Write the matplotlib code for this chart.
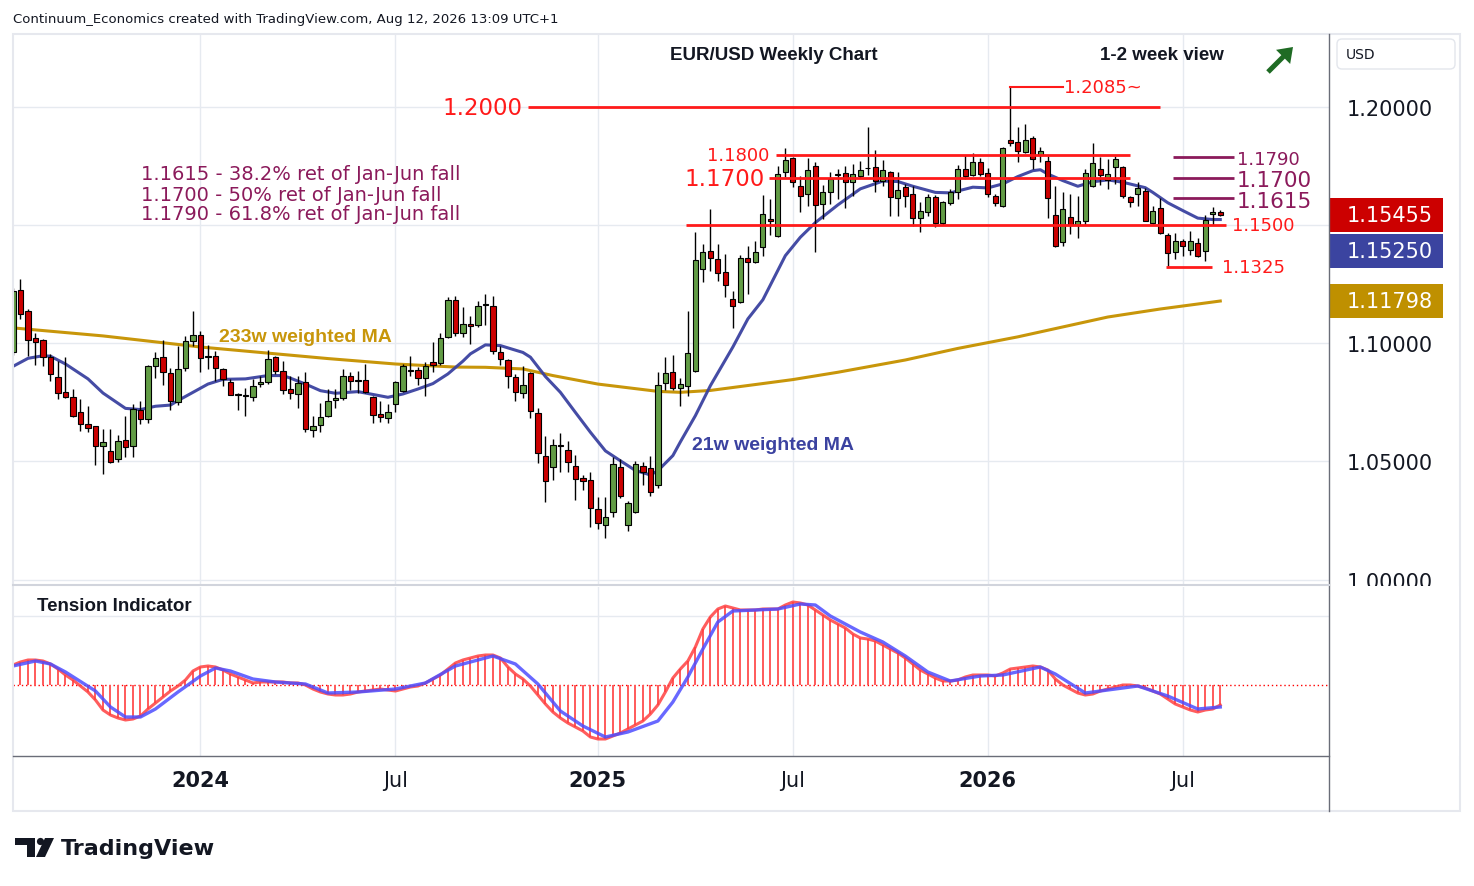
import numpy as np
import pandas as pd
import matplotlib
matplotlib.use("Agg")
import matplotlib.pyplot as plt
from matplotlib.patches import Rectangle, FancyBboxPatch, Circle, Polygon, FancyArrow
from matplotlib.transforms import Affine2D

# ---- weekly EUR/USD candles, week of 10 Jul 2023 .. week of 10 Aug 2026 ----
dates = pd.date_range("2023-07-10", periods=162, freq="W-MON")

opens = [1.0964, 1.1228, 1.1136, 1.1022, 1.1015, 1.0942, 1.0857, 1.0793, 1.0772, 1.0711,
         1.0659, 1.0649, 1.0564, 1.0546, 1.0511, 1.0592, 1.0564, 1.0720, 1.0680, 1.0906,
         1.0942, 1.0874, 1.0753, 1.0895, 1.1009, 1.1036, 1.0946, 1.0948, 1.0892, 1.0838,
         1.0782, 1.0779, 1.0772, 1.0827, 1.0836, 1.0942, 1.0885, 1.0807, 1.0786, 1.0836,
         1.0635, 1.0655, 1.0694, 1.0761, 1.0768, 1.0864, 1.0845, 1.0845, 1.0775, 1.0701,
         1.0683, 1.0744, 1.0797, 1.0885, 1.0889, 1.0853, 1.0920, 1.0916, 1.1026, 1.1186,
         1.1045, 1.1083, 1.1078, 1.1163, 1.1158, 1.0963, 1.0930, 1.0857, 1.0789, 1.0874,
         1.0704, 1.0525, 1.0475, 1.0570, 1.0550, 1.0482, 1.0429, 1.0423, 1.0299, 1.0232,
         1.0285, 1.0475, 1.0231, 1.0285, 1.0482, 1.0471, 1.0400, 1.0831, 1.0878, 1.0810,
         1.0821, 1.0885, 1.1316, 1.1393, 1.1358, 1.1302, 1.1189, 1.1175, 1.1361, 1.1347,
         1.1408, 1.1528, 1.1454, 1.1725, 1.1785, 1.1666, 1.1633, 1.1753, 1.1591, 1.1641,
         1.1714, 1.1722, 1.1686, 1.1711, 1.1742, 1.1747, 1.1690, 1.1725, 1.1615, 1.1662,
         1.1633, 1.1531, 1.1556, 1.1620, 1.1511, 1.1595, 1.1643, 1.1739, 1.1715, 1.1768,
         1.1721, 1.1626, 1.1581, 1.1864, 1.1853, 1.1813, 1.1869, 1.1799, 1.1773, 1.1544,
         1.1431, 1.1535, 1.1503, 1.1520, 1.1666, 1.1739, 1.1694, 1.1747, 1.1747, 1.1620,
         1.1633, 1.1647, 1.1511, 1.1573, 1.1460, 1.1386, 1.1433, 1.1397, 1.1426, 1.1393,
         1.1549, 1.1558]

highs = [1.1235, 1.1273, 1.1146, 1.1045, 1.1020, 1.0956, 1.0927, 1.0943, 1.0807, 1.0765,
         1.0736, 1.0652, 1.0638, 1.0638, 1.0612, 1.0694, 1.0744, 1.0758, 1.0910, 1.0963,
         1.1015, 1.0895, 1.0991, 1.1033, 1.1139, 1.1054, 1.0994, 1.0970, 1.0895, 1.0850,
         1.0790, 1.0810, 1.0850, 1.0861, 1.0974, 1.0948, 1.0927, 1.0861, 1.0861, 1.0881,
         1.0694, 1.0748, 1.0807, 1.0807, 1.0892, 1.0878, 1.0885, 1.0913, 1.0778, 1.0755,
         1.0744, 1.0842, 1.0913, 1.0946, 1.0899, 1.0923, 1.1005, 1.1045, 1.1196, 1.1200,
         1.1153, 1.1118, 1.1181, 1.1210, 1.1203, 1.0991, 1.0934, 1.0871, 1.0903, 1.0881,
         1.0725, 1.0607, 1.0595, 1.0621, 1.0588, 1.0529, 1.0443, 1.0454, 1.0348, 1.0348,
         1.0518, 1.0511, 1.0334, 1.0503, 1.0499, 1.0525, 1.0878, 1.0942, 1.0951, 1.0853,
         1.1139, 1.1471, 1.1422, 1.1570, 1.1422, 1.1379, 1.1224, 1.1375, 1.1414, 1.1436,
         1.1629, 1.1612, 1.1753, 1.1827, 1.1789, 1.1708, 1.1785, 1.1770, 1.1672, 1.1728,
         1.1739, 1.1753, 1.1761, 1.1775, 1.1916, 1.1821, 1.1779, 1.1732, 1.1725, 1.1676,
         1.1669, 1.1601, 1.1633, 1.1629, 1.1605, 1.1655, 1.1756, 1.1799, 1.1807, 1.1785,
         1.1742, 1.1633, 1.1831, 1.2085, 1.1916, 1.1930, 1.1881, 1.1831, 1.1793, 1.1669,
         1.1641, 1.1633, 1.1624, 1.1739, 1.1850, 1.1789, 1.1782, 1.1793, 1.1751, 1.1626,
         1.1683, 1.1658, 1.1584, 1.1615, 1.1468, 1.1468, 1.1443, 1.1478, 1.1446, 1.1544,
         1.1577, 1.1567]

lows = [1.0950, 1.1104, 1.0946, 1.0910, 1.0906, 1.0842, 1.0765, 1.0770, 1.0689, 1.0630,
        1.0624, 1.0485, 1.0447, 1.0494, 1.0499, 1.0519, 1.0519, 1.0659, 1.0663, 1.0853,
        1.0824, 1.0720, 1.0739, 1.0885, 1.0991, 1.0878, 1.0892, 1.0842, 1.0819, 1.0780,
        1.0720, 1.0694, 1.0758, 1.0814, 1.0828, 1.0871, 1.0786, 1.0765, 1.0725, 1.0624,
        1.0603, 1.0624, 1.0687, 1.0725, 1.0762, 1.0804, 1.0790, 1.0790, 1.0663, 1.0669,
        1.0663, 1.0708, 1.0793, 1.0864, 1.0824, 1.0776, 1.0881, 1.0909, 1.1022, 1.1031,
        1.1026, 1.0998, 1.1069, 1.1078, 1.0956, 1.0909, 1.0810, 1.0758, 1.0768, 1.0683,
        1.0494, 1.0330, 1.0423, 1.0454, 1.0454, 1.0338, 1.0380, 1.0221, 1.0214, 1.0175,
        1.0264, 1.0344, 1.0207, 1.0282, 1.0400, 1.0355, 1.0386, 1.0804, 1.0804, 1.0734,
        1.0779, 1.0878, 1.1262, 1.1308, 1.1266, 1.1196, 1.1064, 1.1172, 1.1210, 1.1341,
        1.1372, 1.1460, 1.1450, 1.1704, 1.1662, 1.1558, 1.1584, 1.1389, 1.1528, 1.1591,
        1.1612, 1.1573, 1.1624, 1.1700, 1.1714, 1.1643, 1.1669, 1.1542, 1.1542, 1.1577,
        1.1499, 1.1471, 1.1542, 1.1492, 1.1502, 1.1587, 1.1612, 1.1697, 1.1711, 1.1708,
        1.1620, 1.1584, 1.1579, 1.1838, 1.1768, 1.1807, 1.1739, 1.1768, 1.1531, 1.1410,
        1.1414, 1.1464, 1.1446, 1.1502, 1.1662, 1.1672, 1.1655, 1.1676, 1.1615, 1.1577,
        1.1584, 1.1518, 1.1506, 1.1464, 1.1327, 1.1358, 1.1372, 1.1375, 1.1365, 1.1351,
        1.1502, 1.1539]

closes = [1.1222, 1.1125, 1.1015, 1.1005, 1.0942, 1.0871, 1.0789, 1.0772, 1.0694, 1.0658,
          1.0641, 1.0567, 1.0581, 1.0499, 1.0588, 1.0560, 1.0722, 1.0680, 1.0906, 1.0937,
          1.0878, 1.0758, 1.0892, 1.1012, 1.1036, 1.0937, 1.0944, 1.0895, 1.0850, 1.0782,
          1.0784, 1.0781, 1.0819, 1.0836, 1.0934, 1.0885, 1.0804, 1.0789, 1.0833, 1.0638,
          1.0652, 1.0687, 1.0758, 1.0769, 1.0864, 1.0842, 1.0843, 1.0796, 1.0698, 1.0687,
          1.0708, 1.0836, 1.0903, 1.0887, 1.0853, 1.0906, 1.0909, 1.1022, 1.1186, 1.1045,
          1.1083, 1.1073, 1.1158, 1.1165, 1.0970, 1.0934, 1.0861, 1.0793, 1.0825, 1.0713,
          1.0536, 1.0416, 1.0571, 1.0567, 1.0497, 1.0426, 1.0419, 1.0302, 1.0238, 1.0264,
          1.0489, 1.0353, 1.0323, 1.0489, 1.0454, 1.0369, 1.0825, 1.0875, 1.0810, 1.0827,
          1.0958, 1.1355, 1.1389, 1.1361, 1.1299, 1.1248, 1.1158, 1.1361, 1.1344, 1.1389,
          1.1549, 1.1518, 1.1718, 1.1778, 1.1686, 1.1624, 1.1736, 1.1587, 1.1641, 1.1697,
          1.1718, 1.1683, 1.1718, 1.1735, 1.1744, 1.1690, 1.1736, 1.1620, 1.1652, 1.1624,
          1.1531, 1.1563, 1.1620, 1.1511, 1.1598, 1.1641, 1.1739, 1.1708, 1.1768, 1.1718,
          1.1633, 1.1595, 1.1827, 1.1850, 1.1817, 1.1864, 1.1782, 1.1817, 1.1615, 1.1412,
          1.1570, 1.1502, 1.1518, 1.1721, 1.1764, 1.1714, 1.1718, 1.1782, 1.1624, 1.1598,
          1.1658, 1.1520, 1.1563, 1.1468, 1.1383, 1.1433, 1.1412, 1.1433, 1.1369, 1.1525,
          1.1558, 1.15455]

# moving averages (week index, value)
ma21_weeks = [0, 2, 4, 5, 7, 10, 12, 15, 17, 19, 21, 22, 24, 26, 28, 31, 34, 36, 37, 39,
              41, 43, 46, 50, 52, 54, 56, 58, 60, 61, 63, 65, 68, 69, 71, 73, 75, 77, 79, 81,
              83, 85, 86, 88, 89, 91, 93, 96, 98, 100, 103, 105, 107, 110, 113, 116, 118, 120,
              123, 125, 128, 130, 132, 134, 136, 137, 138, 140, 142, 144, 146, 148, 151, 152,
              154, 156, 158, 160, 161]
ma21_vals = [1.0903, 1.0937, 1.0948, 1.0946, 1.0913, 1.0850, 1.0790, 1.0725, 1.0720, 1.0734,
             1.0739, 1.0758, 1.0793, 1.0828, 1.0848, 1.0850, 1.0864, 1.0864, 1.0853, 1.0828,
             1.0800, 1.0789, 1.0796, 1.0772, 1.0786, 1.0807, 1.0830, 1.0871, 1.0925, 1.0956,
             1.0994, 1.0991, 1.0962, 1.0942, 1.0860, 1.0793, 1.0708, 1.0624, 1.0545, 1.0503,
             1.0462, 1.0443, 1.0461, 1.0525, 1.0583, 1.0694, 1.0821, 1.0985, 1.1104, 1.1185,
             1.1372, 1.1450, 1.1512, 1.1587, 1.1655, 1.1688, 1.1686, 1.1666, 1.1640, 1.1638,
             1.1662, 1.1659, 1.1676, 1.1707, 1.1732, 1.1736, 1.1718, 1.1690, 1.1666, 1.1685,
             1.1693, 1.1683, 1.1660, 1.1640, 1.1596, 1.1563, 1.1531, 1.1525, 1.1525]

ma233_weeks = [0, 12, 25, 42, 51, 59, 63, 68, 72, 78, 86, 89, 93, 99, 104, 110, 119, 126,
               134, 140, 146, 153, 161]
ma233_vals = [1.1066, 1.1032, 1.0985, 1.0936, 1.0913, 1.0900, 1.0899, 1.0892, 1.0864, 1.0828,
              1.0797, 1.0793, 1.0801, 1.0826, 1.0847, 1.0878, 1.0930, 1.0979, 1.1028, 1.1070,
              1.1112, 1.1146, 1.11798]

# tension indicator (one value per week) and its signal line
tension = [2.0, 2.3, 2.5, 2.5, 2.4, 2.1, 1.6, 1.0, 0.5, -0.1,
           -0.7, -1.5, -2.5, -3.0, -3.3, -3.5, -3.4, -3.1, -2.4, -1.8,
           -1.2, -0.6, -0.1, 0.5, 1.4, 1.8, 1.9, 1.8, 1.5, 1.1,
           0.8, 0.5, 0.2, 0.3, 0.3, 0.3, 0.3, 0.2, 0.2, 0.0,
           -0.4, -0.7, -0.9, -1.0, -1.0, -0.9, -0.7, -0.6, -0.5, -0.4,
           -0.5, -0.6, -0.4, -0.2, -0.1, 0.2, 0.6, 1.0, 1.6, 2.2,
           2.5, 2.7, 2.9, 3.0, 3.0, 2.7, 1.8, 1.1, 0.6, -0.1,
           -1.0, -1.9, -2.7, -3.3, -3.8, -4.2, -4.6, -5.2, -5.4, -5.4,
           -5.1, -4.8, -4.4, -4.0, -3.6, -2.9, -2.0, -0.7, 0.7, 1.6,
           2.4, 3.8, 5.6, 6.8, 7.6, 7.9, 7.7, 7.5, 7.5, 7.5,
           7.6, 7.6, 7.6, 8.0, 8.3, 8.2, 8.0, 7.5, 7.0, 6.5,
           6.1, 5.7, 5.1, 4.7, 4.6, 4.4, 4.0, 3.6, 3.2, 2.7,
           2.1, 1.5, 1.1, 0.7, 0.4, 0.4, 0.5, 0.8, 1.0, 1.0,
           1.0, 0.9, 1.2, 1.6, 1.7, 1.8, 1.9, 1.8, 1.5, 0.6,
           0.0, -0.4, -0.8, -1.0, -0.9, -0.6, -0.4, -0.2, 0.0, 0.0,
           -0.1, -0.3, -0.6, -0.9, -1.4, -1.9, -2.2, -2.5, -2.7, -2.5,
           -2.4, -2.0]
signal_weeks = [0, 3, 5, 7, 11, 13, 15, 17, 19, 22, 25, 27, 29, 32, 35, 39, 42, 46, 51, 55,
                59, 64, 67, 70, 73, 76, 79, 82, 86, 88, 90, 92, 94, 96, 99, 102, 105, 107,
                109, 113, 116, 119, 122, 125, 129, 132, 137, 139, 143, 147, 150, 154, 158, 161]
signal_vals = [1.9, 2.4, 2.1, 1.3, -0.6, -2.2, -3.2, -3.2, -2.4, -0.7, 0.9, 1.7, 1.4, 0.6,
               0.3, 0.1, -0.8, -0.7, -0.4, 0.2, 1.9, 2.9, 2.1, 0.1, -2.6, -4.1, -5.2, -4.7,
               -3.6, -1.7, 0.8, 3.6, 6.3, 7.4, 7.5, 7.6, 8.1, 8.0, 6.9, 5.3, 4.3, 2.9, 1.3,
               0.4, 0.9, 1.0, 1.8, 1.1, -0.8, -0.4, -0.1, -1.1, -2.4, -2.2]

price_ticks = [1.00, 1.05, 1.10, 1.15, 1.20]

# ---- colours ----
UP, DOWN = "#629c45", "#cc0000"
RED = "#ff1a1a"
PURPLE = "#8b1a5b"
BLUE_MA, GOLD_MA = "#3b42a0", "#c8960a"
GRID = "#e6eaf0"
INK = "#131722"
BOLD_FONT = "Liberation Sans"

W, H = 1474, 887
fig = plt.figure(figsize=(W / 100, H / 100), dpi=100)
fig.patch.set_facecolor("white")
# transform for placing chrome in pixel coordinates (origin top-left)
pix = Affine2D().scale(1 / W, -1 / H).translate(0, 1) + fig.transFigure

ax = fig.add_axes([13 / W, 1 - 585 / H, 1316 / W, 550 / H])
ax2 = fig.add_axes([13 / W, 1 - 757 / H, 1316 / W, 169 / H])
XLIM = (0, 175.5)
ax.set_xlim(*XLIM)
ax.set_ylim(0.9981, 1.2311)
ax2.set_xlim(*XLIM)
ax2.set_ylim(-7.1, 9.8)
for a in (ax, ax2):
    for s in a.spines.values():
        s.set_visible(False)

o, h, l, c = map(np.array, (opens, highs, lows, closes))
x = np.arange(len(o))

# time ticks: first bar of each year and of July
year_pos = [i for i in range(1, len(dates)) if dates[i].year != dates[i - 1].year]
jul_pos = [i for i in range(1, len(dates)) if dates[i].month == 7 and dates[i - 1].month == 6]
tick_pos = sorted(year_pos + jul_pos)
tick_lab = [str(dates[i].year) if i in year_pos else "Jul" for i in tick_pos]

for a in (ax, ax2):
    for p in tick_pos:
        a.axvline(p, color=GRID, lw=1, zorder=0)
for p in price_ticks:
    ax.axhline(p, color=GRID, lw=1, zorder=0)
ax2.axhline(6.9, color=GRID, lw=1, zorder=0)

# ---- candles ----
colors = np.where(c >= o, UP, DOWN)
ax.vlines(x, l, h, color="black", lw=1, zorder=3)
body = np.maximum(np.abs(c - o), 0.00025)
ax.bar(x, body, bottom=np.minimum(o, c), width=0.7, color=colors,
       edgecolor="black", linewidth=0.8, zorder=4)

# ---- moving averages ----
ax.plot(ma233_weeks, ma233_vals, color=GOLD_MA, lw=2.2, zorder=2)
ax.plot(ma21_weeks, ma21_vals, color=BLUE_MA, lw=2.2, zorder=2, alpha=0.95)
ax.text(27.5, 1.1028, "233w weighted MA", color=GOLD_MA, fontsize=14,
        family=BOLD_FONT, fontweight="bold", va="center", ha="left", zorder=6)
ax.text(90.5, 1.0574, "21w weighted MA", color=BLUE_MA, fontsize=14,
        family=BOLD_FONT, fontweight="bold", va="center", ha="left", zorder=6)

# ---- support / resistance drawings ----
ax.hlines(1.2000, 68.7, 152.9, color=RED, lw=2, zorder=5)
ax.text(67.9, 1.2000, "1.2000", color=RED, fontsize=16.5, ha="right", va="center")
ax.plot([133, 140], [1.2087, 1.2087], color=RED, lw=1.5, zorder=5)
ax.text(140.2, 1.2087, "1.2085~", color=RED, fontsize=13, ha="left", va="center")
ax.hlines(1.1800, 101.8, 148.9, color=RED, lw=2, zorder=5)
ax.text(100.9, 1.1800, "1.1800", color=RED, fontsize=13, ha="right", va="center")
ax.hlines(1.1700, 100.8, 148.9, color=RED, lw=2, zorder=5)
ax.text(100.2, 1.1700, "1.1700", color=RED, fontsize=16.5, ha="right", va="center")
ax.hlines(1.1500, 89.7, 161.8, color=RED, lw=2, zorder=5)
ax.text(162.5, 1.1500, "1.1500", color=RED, fontsize=13, ha="left", va="center")
ax.hlines(1.1325, 153.7, 159.9, color=RED, lw=2, zorder=5)
ax.text(161.2, 1.1324, "1.1325", color=RED, fontsize=13, ha="left", va="center")

for lvl in [1.1790, 1.1700, 1.1617]:
    ax.hlines(lvl, 154.7, 162.8, color=PURPLE, lw=2, zorder=5)
for lvl, txt, size in [(1.1791, "1.1790", 13), (1.1702, "1.1700", 15.5), (1.1612, "1.1615", 15.5)]:
    ax.text(163.2, lvl, txt, color=PURPLE, fontsize=size, ha="left", va="center_baseline")

notes = ["1.1615 - 38.2% ret of Jan-Jun fall",
         "1.1700 - 50% ret of Jan-Jun fall",
         "1.1790 - 61.8% ret of Jan-Jun fall"]
for txt, lvl in zip(notes, [1.1718, 1.1633, 1.1549]):
    ax.text(17.1, lvl, txt, color=PURPLE, fontsize=14, ha="left", va="center")

# ---- axis labels ----
ax.set_xticks(tick_pos)
ax.tick_params(axis="x", length=0, labelbottom=False)
ax.set_yticks(price_ticks)
# the 1.15 label sits under the price tags
ax.set_yticklabels(["" if p == 1.15 else f"{p:.5f}" for p in price_ticks])
ax.yaxis.tick_right()
ax.tick_params(axis="y", length=0, pad=13, labelsize=15, labelcolor=INK)

ax2.set_xticks(tick_pos)
ax2.set_xticklabels(tick_lab)
ax2.tick_params(axis="x", length=0, pad=10, labelsize=15, labelcolor=INK)
for t, lab in zip(ax2.get_xticklabels(), tick_lab):
    if lab != "Jul":
        t.set_fontweight("bold")
ax2.set_yticks([])

# ---- tension indicator ----
ax2.axhline(0, color="#ff0000", lw=1, ls=(0, (1, 2)), zorder=1)
ax2.vlines(x, 0, tension, color="#ff5a5a", lw=1.4, zorder=2)
ax2.plot(x, tension, color="#ff4040", lw=2.2, alpha=0.85, zorder=3)
ax2.plot(signal_weeks, signal_vals, color="#4d4dff", lw=2.4, alpha=0.85, zorder=4)
fig.text(37, 607, "Tension Indicator", transform=pix, fontsize=13.5, color=INK,
         family=BOLD_FONT, fontweight="bold", va="center", ha="left")

# ---- chart chrome ----
fig.add_artist(Rectangle((13, 35), 1447, 777, transform=pix, fill=False,
                         ec="#e6e8ee", lw=1.5))
fig.add_artist(Rectangle((1330, 587), 129, 170, transform=pix, fc="white", ec="none"))
fig.add_artist(plt.Line2D([1329, 1329], [35, 812], transform=pix, color="#6a6d78", lw=1))
fig.add_artist(plt.Line2D([13, 1329], [757, 757], transform=pix, color="#6a6d78", lw=1))
fig.add_artist(plt.Line2D([13, 1329], [586, 586], transform=pix, color="#d1d4dc", lw=1.5))
fig.add_artist(FancyBboxPatch((1337, 40), 118, 30, transform=pix,
                              boxstyle="round,pad=0,rounding_size=5",
                              fc="white", ec="#e3e6ec", lw=1))
fig.text(1346, 55, "USD", transform=pix, fontsize=10, color=INK, va="center")

fig.text(13, 19, "Continuum_Economics created with TradingView.com, Aug 12, 2026 13:09 UTC+1",
         transform=pix, fontsize=9.5, color=INK, va="center")
fig.text(774, 55, "EUR/USD Weekly Chart", transform=pix, fontsize=13.5, family=BOLD_FONT,
         fontweight="bold", color=INK, ha="center", va="center")
fig.text(1162, 55, "1-2 week view", transform=pix, fontsize=13.5, family=BOLD_FONT,
         fontweight="bold", color=INK, ha="center", va="center")
fig.add_artist(FancyArrow(1268, 73, 25, -25, width=5, head_width=20, head_length=14,
                          length_includes_head=True, transform=pix,
                          color="#1f6b24", ec="none"))

# price tags on the right scale
def price_to_py(p):
    return H - ax.transData.transform((0, p))[1]

tags = [(closes[-1], DOWN, 0), (ma21_vals[-1], "#3b44a0", 36.5), (ma233_vals[-1], "#bf9000", 0)]
red_py = price_to_py(closes[-1])
for val, col, shift in tags:
    py = price_to_py(val) if shift == 0 else red_py + shift
    fig.add_artist(Rectangle((1330, py - 17), 113, 34, transform=pix, fc=col, ec="none"))
    fig.text(1390, py, f"{val:.5f}", transform=pix, fontsize=15, color="white",
             ha="center", va="center")

# TradingView logo
fig.add_artist(Rectangle((15, 839), 20, 7, transform=pix, fc=INK, ec="none"))
fig.add_artist(Rectangle((27, 839), 8, 19, transform=pix, fc=INK, ec="none"))
fig.add_artist(Circle((40.5, 842.5), 3.6, transform=pix, fc=INK, ec="none"))
fig.add_artist(Polygon([(45, 839), (54, 839), (45, 858), (36, 858)], closed=True,
                       transform=pix, fc=INK, ec="none"))
fig.text(61, 849, "TradingView", transform=pix, fontsize=16, fontweight="bold",
         color=INK, va="center")

fig.savefig("out.png", dpi=100)
